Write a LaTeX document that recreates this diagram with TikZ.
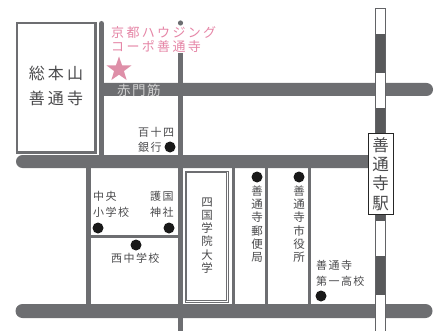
\documentclass[tikz,border=0pt]{standalone}
\usepackage{fontspec}
\setmainfont{Noto Sans CJK JP}[Scale=1]
\definecolor{road}{HTML}{6D6E71}
\definecolor{rail}{HTML}{58595B}
\definecolor{ink}{HTML}{4A4A4C}
\definecolor{pinktxt}{HTML}{E585A6}
\definecolor{pinkstar}{HTML}{DE8FA8}
\newcommand{\sz}[3]{\fontsize{#1}{#2}\selectfont\addfontfeature{LetterSpace=#3}}
\usetikzlibrary{shapes.geometric}
\tikzset{
 roadfill/.style={fill=road,draw=none},
 lab/.style={inner sep=0pt,text=ink,anchor=west,font=\sz{11}{13}{13}},
 vlab/.style={inner sep=0pt,text=ink,align=center,anchor=center,font=\sz{11.5}{13.3}{0}},
 pinklab/.style={inner sep=0pt,text=pinktxt,anchor=west,font=\sz{13}{15}{18}},
 bigtext/.style={inner sep=0pt,text=ink,anchor=center,font=\sz{16}{19}{19}},
 mark dot/.style={circle,fill=black!90,minimum size=11pt,inner sep=0pt},
}
\begin{document}
\begin{tikzpicture}[x=1pt,y=-1pt]
\useasboundingbox (0,0) rectangle (438,331);
% roads
\draw[road,line width=5pt,line cap=round] (101.5,23.5) -- (101.5,157);
\fill[roadfill] (178,53) rectangle (183,331);
\fill[roadfill] (180.5,23) circle (2.6);
\fill[roadfill] (99,83) -- (426.5,83) arc[start angle=-90,end angle=90,radius=6.5] -- (99,96) -- cycle;
\fill[roadfill] (370,155) -- (22.5,155) arc[start angle=270,end angle=90,radius=6.5] -- (370,168) -- cycle;
\fill[roadfill] (86,165) rectangle (91,305);
\fill[roadfill] (91,235) rectangle (178,238);
\fill[roadfill] (232,165) rectangle (234.5,305);
\fill[roadfill] (265,165) rectangle (268,305);
\fill[roadfill] (308,165) rectangle (311,305);
\fill[roadfill] (425.5,304) arc[start angle=-90,end angle=90,radius=7] -- (22.5,318) arc[start angle=90,end angle=270,radius=7] -- cycle;
% temple
\draw[road,line width=2.2pt,fill=white] (17,23) rectangle (95.5,152.5);
% university
\draw[road,line width=0.7pt,fill=white] (185,171) rectangle (228.5,302);
\draw[road,line width=0.7pt] (186.8,172.8) rectangle (226.7,300.2);
% railway
\fill[white] (375.5,8) rectangle (385.5,331);
\fill[rail] (375.5,34) rectangle (385.5,73);
\fill[rail] (375.5,108) rectangle (385.5,140);
\fill[rail] (375.5,210) rectangle (385.5,221);
\fill[rail] (375.5,256) rectangle (385.5,295);
\draw[road!90!black,line width=0.8pt] (375.5,331) -- (375.5,8) -- (385.5,8) -- (385.5,331);
% station
\node[draw=black!85,fill=white,line width=0.7pt,minimum width=25pt,minimum height=81pt,inner sep=0pt] (station) at (380.5,173.5) {};
\node[inner sep=0pt,align=center,text=ink,font=\sz{16.5}{19.3}{0}] (stationtext) at (380.5,174) {善\\通\\寺\\駅};
% star
\node[star,star points=5,star point ratio=2.5,fill=pinkstar,minimum size=26pt,inner sep=0pt] (starmark) at (119,69.5) {};
% labels
\node[bigtext] (t1) at (56,73) {総本山};
\node[bigtext] (t2) at (56,98) {善通寺};
\node[pinklab] (p1) at (111,33) {京都ハウジング};
\node[pinklab] (p2) at (111,46.5) {コーポ善通寺};
\node[inner sep=0pt,anchor=west,text=black!18,font=\sz{13.5}{15}{11}] (aka) at (117,90) {赤門筋};
\node[lab] (h1) at (138,132) {百十四};
\node[lab] (h2) at (138,147) {銀行};
\node[mark dot] (d1) at (170,147) {};
\node[lab] (c1) at (93,196) {中央};
\node[lab] (c2) at (93,212) {小学校};
\node[mark dot] (d2) at (98,228) {};
\node[lab] (g1) at (150,196) {護国};
\node[lab] (g2) at (150,212) {神社};
\node[mark dot] (d3) at (169,228) {};
\node[mark dot] (d4) at (136,245) {};
\node[lab] (n1) at (111,258) {西中学校};
\node[vlab] (u1) at (207,235.5) {四\\国\\学\\院\\大\\学};
\node[mark dot] (d5) at (257,177) {};
\node[vlab] (v1) at (257,224) {善\\通\\寺\\郵\\便\\局};
\node[mark dot] (d6) at (299,177) {};
\node[vlab] (v2) at (299,224) {善\\通\\寺\\市\\役\\所};
\node[lab] (k1) at (316,265) {善通寺};
\node[lab] (k2) at (316,281) {第一高校};
\node[mark dot] (d7) at (321,296) {};
\end{tikzpicture}
\end{document}
